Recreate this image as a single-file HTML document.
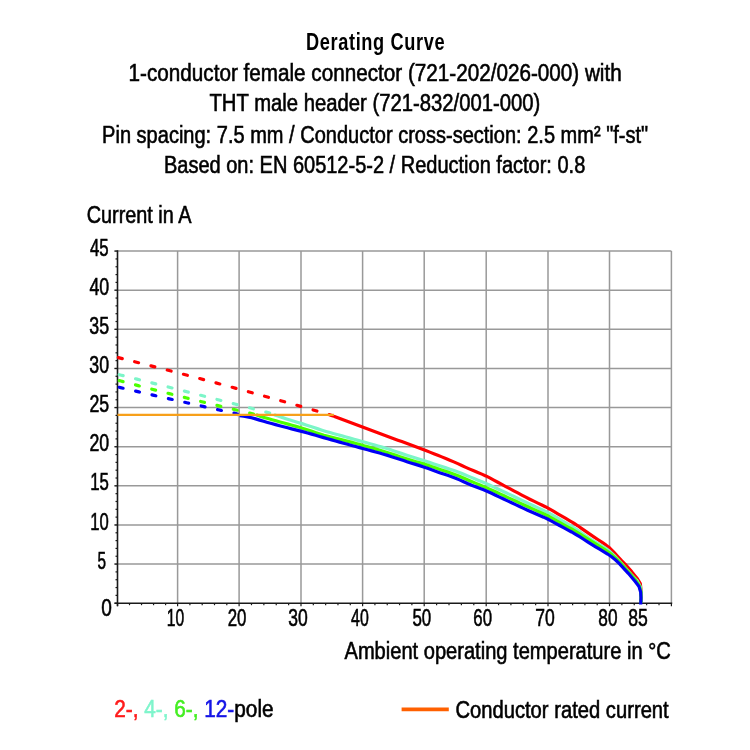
<!DOCTYPE html><html><head><meta charset="utf-8"><style>html,body{margin:0;padding:0;background:#fff;}svg{display:block;filter:grayscale(0)}text{font-family:"Liberation Sans",sans-serif;fill:#000;stroke:#000;stroke-width:0.6px;font-size:24px;}</style></head><body>
<svg width="750" height="750" viewBox="0 0 750 750">
<rect width="750" height="750" fill="#fff"/>
<line x1="177.6" y1="251.10" x2="177.6" y2="603.20" stroke="#999999" stroke-width="1.5"/>
<line x1="239.1" y1="251.10" x2="239.1" y2="603.20" stroke="#999999" stroke-width="1.5"/>
<line x1="301.0" y1="251.10" x2="301.0" y2="603.20" stroke="#999999" stroke-width="1.5"/>
<line x1="362.6" y1="251.10" x2="362.6" y2="603.20" stroke="#999999" stroke-width="1.5"/>
<line x1="424.2" y1="251.10" x2="424.2" y2="603.20" stroke="#999999" stroke-width="1.5"/>
<line x1="486.2" y1="251.10" x2="486.2" y2="603.20" stroke="#999999" stroke-width="1.5"/>
<line x1="548.0" y1="251.10" x2="548.0" y2="603.20" stroke="#999999" stroke-width="1.5"/>
<line x1="609.5" y1="251.10" x2="609.5" y2="603.20" stroke="#999999" stroke-width="1.5"/>
<line x1="671.4" y1="251.10" x2="671.4" y2="603.20" stroke="#999999" stroke-width="1.5"/>
<line x1="114.5" y1="564.08" x2="671.4" y2="564.08" stroke="#999999" stroke-width="1.5"/>
<line x1="114.5" y1="524.96" x2="671.4" y2="524.96" stroke="#999999" stroke-width="1.5"/>
<line x1="114.5" y1="485.83" x2="671.4" y2="485.83" stroke="#999999" stroke-width="1.5"/>
<line x1="114.5" y1="446.71" x2="671.4" y2="446.71" stroke="#999999" stroke-width="1.5"/>
<line x1="114.5" y1="407.59" x2="671.4" y2="407.59" stroke="#999999" stroke-width="1.5"/>
<line x1="114.5" y1="368.47" x2="671.4" y2="368.47" stroke="#999999" stroke-width="1.5"/>
<line x1="114.5" y1="329.35" x2="671.4" y2="329.35" stroke="#999999" stroke-width="1.5"/>
<line x1="114.5" y1="290.22" x2="671.4" y2="290.22" stroke="#999999" stroke-width="1.5"/>
<line x1="114.5" y1="251.10" x2="671.4" y2="251.10" stroke="#999999" stroke-width="1.5"/>
<line x1="117.5" y1="250.20" x2="117.5" y2="606.20" stroke="#1a1a1a" stroke-width="1.6"/>
<line x1="114.5" y1="603.20" x2="672.1999999999999" y2="603.20" stroke="#1a1a1a" stroke-width="1.6"/>
<line x1="114.5" y1="603.20" x2="117.5" y2="603.20" stroke="#1a1a1a" stroke-width="1.2"/>
<line x1="115.5" y1="595.38" x2="117.5" y2="595.38" stroke="#1a1a1a" stroke-width="1.2"/>
<line x1="115.5" y1="587.55" x2="117.5" y2="587.55" stroke="#1a1a1a" stroke-width="1.2"/>
<line x1="115.5" y1="579.73" x2="117.5" y2="579.73" stroke="#1a1a1a" stroke-width="1.2"/>
<line x1="115.5" y1="571.90" x2="117.5" y2="571.90" stroke="#1a1a1a" stroke-width="1.2"/>
<line x1="114.5" y1="564.08" x2="117.5" y2="564.08" stroke="#1a1a1a" stroke-width="1.2"/>
<line x1="115.5" y1="556.25" x2="117.5" y2="556.25" stroke="#1a1a1a" stroke-width="1.2"/>
<line x1="115.5" y1="548.43" x2="117.5" y2="548.43" stroke="#1a1a1a" stroke-width="1.2"/>
<line x1="115.5" y1="540.60" x2="117.5" y2="540.60" stroke="#1a1a1a" stroke-width="1.2"/>
<line x1="115.5" y1="532.78" x2="117.5" y2="532.78" stroke="#1a1a1a" stroke-width="1.2"/>
<line x1="114.5" y1="524.96" x2="117.5" y2="524.96" stroke="#1a1a1a" stroke-width="1.2"/>
<line x1="115.5" y1="517.13" x2="117.5" y2="517.13" stroke="#1a1a1a" stroke-width="1.2"/>
<line x1="115.5" y1="509.31" x2="117.5" y2="509.31" stroke="#1a1a1a" stroke-width="1.2"/>
<line x1="115.5" y1="501.48" x2="117.5" y2="501.48" stroke="#1a1a1a" stroke-width="1.2"/>
<line x1="115.5" y1="493.66" x2="117.5" y2="493.66" stroke="#1a1a1a" stroke-width="1.2"/>
<line x1="114.5" y1="485.83" x2="117.5" y2="485.83" stroke="#1a1a1a" stroke-width="1.2"/>
<line x1="115.5" y1="478.01" x2="117.5" y2="478.01" stroke="#1a1a1a" stroke-width="1.2"/>
<line x1="115.5" y1="470.19" x2="117.5" y2="470.19" stroke="#1a1a1a" stroke-width="1.2"/>
<line x1="115.5" y1="462.36" x2="117.5" y2="462.36" stroke="#1a1a1a" stroke-width="1.2"/>
<line x1="115.5" y1="454.54" x2="117.5" y2="454.54" stroke="#1a1a1a" stroke-width="1.2"/>
<line x1="114.5" y1="446.71" x2="117.5" y2="446.71" stroke="#1a1a1a" stroke-width="1.2"/>
<line x1="115.5" y1="438.89" x2="117.5" y2="438.89" stroke="#1a1a1a" stroke-width="1.2"/>
<line x1="115.5" y1="431.06" x2="117.5" y2="431.06" stroke="#1a1a1a" stroke-width="1.2"/>
<line x1="115.5" y1="423.24" x2="117.5" y2="423.24" stroke="#1a1a1a" stroke-width="1.2"/>
<line x1="115.5" y1="415.41" x2="117.5" y2="415.41" stroke="#1a1a1a" stroke-width="1.2"/>
<line x1="114.5" y1="407.59" x2="117.5" y2="407.59" stroke="#1a1a1a" stroke-width="1.2"/>
<line x1="115.5" y1="399.77" x2="117.5" y2="399.77" stroke="#1a1a1a" stroke-width="1.2"/>
<line x1="115.5" y1="391.94" x2="117.5" y2="391.94" stroke="#1a1a1a" stroke-width="1.2"/>
<line x1="115.5" y1="384.12" x2="117.5" y2="384.12" stroke="#1a1a1a" stroke-width="1.2"/>
<line x1="115.5" y1="376.29" x2="117.5" y2="376.29" stroke="#1a1a1a" stroke-width="1.2"/>
<line x1="114.5" y1="368.47" x2="117.5" y2="368.47" stroke="#1a1a1a" stroke-width="1.2"/>
<line x1="115.5" y1="360.64" x2="117.5" y2="360.64" stroke="#1a1a1a" stroke-width="1.2"/>
<line x1="115.5" y1="352.82" x2="117.5" y2="352.82" stroke="#1a1a1a" stroke-width="1.2"/>
<line x1="115.5" y1="344.99" x2="117.5" y2="344.99" stroke="#1a1a1a" stroke-width="1.2"/>
<line x1="115.5" y1="337.17" x2="117.5" y2="337.17" stroke="#1a1a1a" stroke-width="1.2"/>
<line x1="114.5" y1="329.35" x2="117.5" y2="329.35" stroke="#1a1a1a" stroke-width="1.2"/>
<line x1="115.5" y1="321.52" x2="117.5" y2="321.52" stroke="#1a1a1a" stroke-width="1.2"/>
<line x1="115.5" y1="313.70" x2="117.5" y2="313.70" stroke="#1a1a1a" stroke-width="1.2"/>
<line x1="115.5" y1="305.87" x2="117.5" y2="305.87" stroke="#1a1a1a" stroke-width="1.2"/>
<line x1="115.5" y1="298.05" x2="117.5" y2="298.05" stroke="#1a1a1a" stroke-width="1.2"/>
<line x1="114.5" y1="290.22" x2="117.5" y2="290.22" stroke="#1a1a1a" stroke-width="1.2"/>
<line x1="115.5" y1="282.40" x2="117.5" y2="282.40" stroke="#1a1a1a" stroke-width="1.2"/>
<line x1="115.5" y1="274.58" x2="117.5" y2="274.58" stroke="#1a1a1a" stroke-width="1.2"/>
<line x1="115.5" y1="266.75" x2="117.5" y2="266.75" stroke="#1a1a1a" stroke-width="1.2"/>
<line x1="115.5" y1="258.93" x2="117.5" y2="258.93" stroke="#1a1a1a" stroke-width="1.2"/>
<line x1="114.5" y1="251.10" x2="117.5" y2="251.10" stroke="#1a1a1a" stroke-width="1.2"/>
<line x1="117.50" y1="603.2" x2="117.50" y2="606.2" stroke="#1a1a1a" stroke-width="1.2"/>
<line x1="129.52" y1="603.2" x2="129.52" y2="605.2" stroke="#1a1a1a" stroke-width="1.2"/>
<line x1="141.54" y1="603.2" x2="141.54" y2="605.2" stroke="#1a1a1a" stroke-width="1.2"/>
<line x1="153.56" y1="603.2" x2="153.56" y2="605.2" stroke="#1a1a1a" stroke-width="1.2"/>
<line x1="165.58" y1="603.2" x2="165.58" y2="605.2" stroke="#1a1a1a" stroke-width="1.2"/>
<line x1="177.60" y1="603.2" x2="177.60" y2="606.2" stroke="#1a1a1a" stroke-width="1.2"/>
<line x1="189.90" y1="603.2" x2="189.90" y2="605.2" stroke="#1a1a1a" stroke-width="1.2"/>
<line x1="202.20" y1="603.2" x2="202.20" y2="605.2" stroke="#1a1a1a" stroke-width="1.2"/>
<line x1="214.50" y1="603.2" x2="214.50" y2="605.2" stroke="#1a1a1a" stroke-width="1.2"/>
<line x1="226.80" y1="603.2" x2="226.80" y2="605.2" stroke="#1a1a1a" stroke-width="1.2"/>
<line x1="239.10" y1="603.2" x2="239.10" y2="606.2" stroke="#1a1a1a" stroke-width="1.2"/>
<line x1="251.48" y1="603.2" x2="251.48" y2="605.2" stroke="#1a1a1a" stroke-width="1.2"/>
<line x1="263.86" y1="603.2" x2="263.86" y2="605.2" stroke="#1a1a1a" stroke-width="1.2"/>
<line x1="276.24" y1="603.2" x2="276.24" y2="605.2" stroke="#1a1a1a" stroke-width="1.2"/>
<line x1="288.62" y1="603.2" x2="288.62" y2="605.2" stroke="#1a1a1a" stroke-width="1.2"/>
<line x1="301.00" y1="603.2" x2="301.00" y2="606.2" stroke="#1a1a1a" stroke-width="1.2"/>
<line x1="313.32" y1="603.2" x2="313.32" y2="605.2" stroke="#1a1a1a" stroke-width="1.2"/>
<line x1="325.64" y1="603.2" x2="325.64" y2="605.2" stroke="#1a1a1a" stroke-width="1.2"/>
<line x1="337.96" y1="603.2" x2="337.96" y2="605.2" stroke="#1a1a1a" stroke-width="1.2"/>
<line x1="350.28" y1="603.2" x2="350.28" y2="605.2" stroke="#1a1a1a" stroke-width="1.2"/>
<line x1="362.60" y1="603.2" x2="362.60" y2="606.2" stroke="#1a1a1a" stroke-width="1.2"/>
<line x1="374.92" y1="603.2" x2="374.92" y2="605.2" stroke="#1a1a1a" stroke-width="1.2"/>
<line x1="387.24" y1="603.2" x2="387.24" y2="605.2" stroke="#1a1a1a" stroke-width="1.2"/>
<line x1="399.56" y1="603.2" x2="399.56" y2="605.2" stroke="#1a1a1a" stroke-width="1.2"/>
<line x1="411.88" y1="603.2" x2="411.88" y2="605.2" stroke="#1a1a1a" stroke-width="1.2"/>
<line x1="424.20" y1="603.2" x2="424.20" y2="606.2" stroke="#1a1a1a" stroke-width="1.2"/>
<line x1="436.60" y1="603.2" x2="436.60" y2="605.2" stroke="#1a1a1a" stroke-width="1.2"/>
<line x1="449.00" y1="603.2" x2="449.00" y2="605.2" stroke="#1a1a1a" stroke-width="1.2"/>
<line x1="461.40" y1="603.2" x2="461.40" y2="605.2" stroke="#1a1a1a" stroke-width="1.2"/>
<line x1="473.80" y1="603.2" x2="473.80" y2="605.2" stroke="#1a1a1a" stroke-width="1.2"/>
<line x1="486.20" y1="603.2" x2="486.20" y2="606.2" stroke="#1a1a1a" stroke-width="1.2"/>
<line x1="498.56" y1="603.2" x2="498.56" y2="605.2" stroke="#1a1a1a" stroke-width="1.2"/>
<line x1="510.92" y1="603.2" x2="510.92" y2="605.2" stroke="#1a1a1a" stroke-width="1.2"/>
<line x1="523.28" y1="603.2" x2="523.28" y2="605.2" stroke="#1a1a1a" stroke-width="1.2"/>
<line x1="535.64" y1="603.2" x2="535.64" y2="605.2" stroke="#1a1a1a" stroke-width="1.2"/>
<line x1="548.00" y1="603.2" x2="548.00" y2="606.2" stroke="#1a1a1a" stroke-width="1.2"/>
<line x1="560.30" y1="603.2" x2="560.30" y2="605.2" stroke="#1a1a1a" stroke-width="1.2"/>
<line x1="572.60" y1="603.2" x2="572.60" y2="605.2" stroke="#1a1a1a" stroke-width="1.2"/>
<line x1="584.90" y1="603.2" x2="584.90" y2="605.2" stroke="#1a1a1a" stroke-width="1.2"/>
<line x1="597.20" y1="603.2" x2="597.20" y2="605.2" stroke="#1a1a1a" stroke-width="1.2"/>
<line x1="609.50" y1="603.2" x2="609.50" y2="606.2" stroke="#1a1a1a" stroke-width="1.2"/>
<line x1="621.88" y1="603.2" x2="621.88" y2="605.2" stroke="#1a1a1a" stroke-width="1.2"/>
<line x1="634.26" y1="603.2" x2="634.26" y2="605.2" stroke="#1a1a1a" stroke-width="1.2"/>
<line x1="646.64" y1="603.2" x2="646.64" y2="605.2" stroke="#1a1a1a" stroke-width="1.2"/>
<line x1="659.02" y1="603.2" x2="659.02" y2="605.2" stroke="#1a1a1a" stroke-width="1.2"/>
<line x1="671.40" y1="603.2" x2="671.40" y2="606.2" stroke="#1a1a1a" stroke-width="1.2"/>
<polyline points="117.40,374.25 121.32,375.22 125.23,376.20 129.15,377.18 133.06,378.16 136.97,379.14 140.89,380.12 144.81,381.11 148.72,382.09 152.63,383.08 156.55,384.06 160.47,385.05 164.38,386.04 168.30,387.03 172.21,388.02 176.12,389.01 180.04,390.01 183.95,391.00 187.87,392.00 191.79,392.99 195.70,393.99 199.62,394.99 203.53,395.99 207.44,396.99 211.36,397.99 215.28,399.00 219.19,400.00 223.11,401.01 227.02,402.01 230.94,403.02 234.85,404.03 238.76,405.04 242.68,406.05 246.59,407.06 250.51,408.07 254.43,409.09 258.34,410.10 262.25,411.12 266.17,412.13 270.09,413.15 274.00,414.80" fill="none" stroke="#7cf5c8" stroke-width="3.2" stroke-dasharray="4.0 12.8" stroke-dashoffset="-1.9" stroke-linecap="round"/>
<polyline points="117.40,380.13 120.87,381.05 124.33,381.97 127.80,382.89 131.26,383.80 134.72,384.71 138.19,385.62 141.66,386.53 145.12,387.43 148.59,388.32 152.05,389.22 155.51,390.11 158.98,391.00 162.44,391.89 165.91,392.77 169.38,393.65 172.84,394.52 176.31,395.40 179.77,396.27 183.24,397.13 186.70,398.00 190.17,398.86 193.63,399.71 197.09,400.57 200.56,401.42 204.03,402.27 207.49,403.11 210.95,403.95 214.42,404.79 217.88,405.63 221.35,406.46 224.81,407.29 228.28,408.11 231.75,408.94 235.21,409.76 238.68,410.57 242.14,411.38 245.60,412.19 249.07,413.00 252.53,413.81 256.00,414.80" fill="none" stroke="#4cff00" stroke-width="3.2" stroke-dasharray="4.0 12.8" stroke-dashoffset="-1.9" stroke-linecap="round"/>
<polyline points="117.40,386.85 120.46,387.57 123.51,388.28 126.56,389.00 129.62,389.71 132.68,390.42 135.73,391.13 138.78,391.83 141.84,392.54 144.90,393.24 147.95,393.95 151.00,394.65 154.06,395.35 157.12,396.05 160.17,396.75 163.22,397.44 166.28,398.14 169.33,398.83 172.39,399.52 175.44,400.21 178.50,400.90 181.56,401.59 184.61,402.28 187.67,402.96 190.72,403.65 193.77,404.33 196.83,405.01 199.88,405.69 202.94,406.37 206.00,407.05 209.05,407.72 212.11,408.40 215.16,409.07 218.21,409.74 221.27,410.41 224.32,411.08 227.38,411.75 230.44,412.41 233.49,413.08 236.54,413.74 239.60,415.60" fill="none" stroke="#0000f5" stroke-width="3.2" stroke-dasharray="4.0 12.8" stroke-dashoffset="-1.9" stroke-linecap="round"/>
<polyline points="117.40,357.38 122.81,358.73 128.22,360.08 133.63,361.45 139.04,362.82 144.45,364.19 149.86,365.57 155.27,366.96 160.68,368.35 166.09,369.74 171.50,371.15 176.91,372.56 182.32,373.97 187.73,375.39 193.14,376.82 198.55,378.25 203.96,379.69 209.37,381.13 214.78,382.58 220.19,384.04 225.60,385.50 231.01,386.97 236.42,388.44 241.83,389.92 247.24,391.40 252.65,392.89 258.06,394.39 263.47,395.89 268.88,397.40 274.29,398.91 279.70,400.43 285.11,401.95 290.52,403.48 295.93,405.02 301.34,406.56 306.75,408.11 312.16,409.66 317.57,411.22 322.98,412.79 328.39,414.36 333.80,416.20" fill="none" stroke="#ff0000" stroke-width="3.2" stroke-dasharray="4.0 12.8" stroke-dashoffset="-1.0" stroke-linecap="round"/>
<polyline points="333.80,416.20 337.80,417.73 341.80,419.26 345.80,420.78 349.80,422.31 353.80,423.83 357.80,425.34 361.80,426.84 365.80,428.33 369.80,429.83 373.80,431.32 377.80,432.81 381.80,434.30 385.80,435.78 389.80,437.25 393.80,438.70 397.80,440.16 401.80,441.62 405.80,443.07 409.80,444.54 413.80,446.03 417.80,447.53 421.80,449.05 425.80,450.58 429.80,452.12 433.80,453.69 437.80,455.26 441.80,456.87 445.80,458.50 449.80,460.16 453.80,461.86 457.80,463.64 461.80,465.48 465.80,467.33 469.80,469.12 473.80,470.82 477.80,472.47 481.80,474.13 485.80,475.93 489.80,477.93 493.80,480.09 497.80,482.27 501.80,484.44 505.80,486.57 509.80,488.69 513.80,490.81 517.80,492.93 521.80,495.05 525.80,497.16 529.80,499.21 533.80,501.18 537.80,503.08 541.80,504.99 545.80,506.96 549.80,509.10 553.80,511.39 557.80,513.76 561.80,516.11 565.80,518.43 569.80,520.76 573.80,523.19 577.80,525.80 581.80,528.57 585.80,531.40 589.80,534.18 593.80,536.88 597.80,539.52 601.80,542.15 605.80,544.90 609.80,548.10 613.80,552.04 617.80,556.45 621.80,560.86 625.00,564.10 631.70,571.65 637.00,578.20 640.30,583.50 641.00,590.00 641.00,603.00" fill="none" stroke="#ff0000" stroke-width="3.2" stroke-linejoin="round"/>
<polyline points="274.00,414.80 278.00,416.09 282.00,417.39 286.00,418.68 290.00,419.96 294.00,421.22 298.00,422.43 302.00,423.65 306.00,424.93 310.00,426.24 314.00,427.56 318.00,428.88 322.00,430.18 326.00,431.41 330.00,432.57 334.00,433.69 338.00,434.80 342.00,435.90 346.00,437.01 350.00,438.12 354.00,439.23 358.00,440.34 362.00,441.46 366.00,442.58 370.00,443.70 374.00,444.82 378.00,445.94 382.00,447.09 386.00,448.30 390.00,449.59 394.00,450.92 398.00,452.27 402.00,453.61 406.00,454.95 410.00,456.25 414.00,457.51 418.00,458.74 422.00,459.99 426.00,461.28 430.00,462.61 434.00,463.96 438.00,465.30 442.00,466.60 446.00,467.88 450.00,469.15 454.00,470.51 458.00,472.00 462.00,473.60 466.00,475.24 470.00,476.89 474.00,478.52 478.00,480.15 482.00,481.79 486.00,483.49 490.00,485.27 494.00,487.12 498.00,488.98 502.00,490.86 506.00,492.76 510.00,494.67 514.00,496.57 518.00,498.48 522.00,500.39 526.00,502.29 530.00,504.17 534.00,506.02 538.00,507.84 542.00,509.68 546.00,511.59 550.00,513.65 554.00,515.87 558.00,518.17 562.00,520.51 566.00,522.87 570.00,525.27 574.00,527.77 578.00,530.43 582.00,533.21 586.00,536.03 590.00,538.73 594.00,541.27 598.00,543.70 602.00,546.11 606.00,548.65 610.00,551.64 614.00,555.33 618.00,559.57 622.00,564.10 631.00,574.35 637.00,580.56 640.50,587.00 641.00,592.00 641.00,603.00" fill="none" stroke="#7cf5c8" stroke-width="3.2" stroke-linejoin="round"/>
<polyline points="256.00,414.80 260.00,416.12 264.00,417.40 268.00,418.59 272.00,419.72 276.00,420.83 280.00,421.93 284.00,423.03 288.00,424.14 292.00,425.24 296.00,426.36 300.00,427.54 304.00,428.77 308.00,430.05 312.00,431.36 316.00,432.66 320.00,433.95 324.00,435.18 328.00,436.31 332.00,437.35 336.00,438.35 340.00,439.35 344.00,440.35 348.00,441.35 352.00,442.37 356.00,443.43 360.00,444.54 364.00,445.68 368.00,446.83 372.00,447.97 376.00,449.12 380.00,450.28 384.00,451.47 388.00,452.72 392.00,454.03 396.00,455.35 400.00,456.68 404.00,458.00 408.00,459.29 412.00,460.53 416.00,461.70 420.00,462.85 424.00,464.06 428.00,465.37 432.00,466.73 436.00,468.11 440.00,469.46 444.00,470.77 448.00,472.07 452.00,473.41 456.00,474.90 460.00,476.56 464.00,478.31 468.00,480.07 472.00,481.76 476.00,483.39 480.00,485.01 484.00,486.66 488.00,488.38 492.00,490.19 496.00,492.04 500.00,493.89 504.00,495.74 508.00,497.58 512.00,499.42 516.00,501.26 520.00,503.10 524.00,504.94 528.00,506.77 532.00,508.59 536.00,510.40 540.00,512.20 544.00,514.03 548.00,515.99 552.00,518.13 556.00,520.39 560.00,522.65 564.00,524.86 568.00,527.04 572.00,529.25 576.00,531.58 580.00,534.03 584.00,536.57 588.00,539.10 592.00,541.61 596.00,544.09 600.00,546.55 604.00,549.05 608.00,551.73 612.00,554.85 616.00,558.47 620.00,562.40 628.00,571.30 635.00,579.24 639.50,586.10 641.00,592.00 641.00,603.00" fill="none" stroke="#4cff00" stroke-width="3.2" stroke-linejoin="round"/>
<polyline points="239.60,415.60 243.60,416.19 247.60,416.88 251.60,417.77 255.60,418.88 259.60,420.10 263.60,421.31 267.60,422.46 271.60,423.55 275.60,424.62 279.60,425.69 283.60,426.75 287.60,427.82 291.60,428.86 295.60,429.86 299.60,430.83 303.60,431.87 307.60,432.98 311.60,434.13 315.60,435.28 319.60,436.44 323.60,437.59 327.60,438.72 331.60,439.85 335.60,440.97 339.60,442.09 343.60,443.21 347.60,444.33 351.60,445.44 355.60,446.55 359.60,447.64 363.60,448.72 367.60,449.80 371.60,450.88 375.60,451.96 379.60,453.05 383.60,454.18 387.60,455.39 391.60,456.67 395.60,457.98 399.60,459.29 403.60,460.60 407.60,461.90 411.60,463.16 415.60,464.40 419.60,465.64 423.60,466.94 427.60,468.33 431.60,469.79 435.60,471.26 439.60,472.68 443.60,474.03 447.60,475.34 451.60,476.68 455.60,478.17 459.60,479.88 463.60,481.70 467.60,483.51 471.60,485.19 475.60,486.75 479.60,488.25 483.60,489.80 487.60,491.48 491.60,493.30 495.60,495.19 499.60,497.10 503.60,498.99 507.60,500.87 511.60,502.75 515.60,504.63 519.60,506.51 523.60,508.39 527.60,510.24 531.60,512.03 535.60,513.76 539.60,515.45 543.60,517.17 547.60,519.03 551.60,521.09 555.60,523.30 559.60,525.52 563.60,527.69 567.60,529.82 571.60,531.98 575.60,534.27 579.60,536.72 583.60,539.27 587.60,541.82 591.60,544.33 595.60,546.78 599.60,549.21 603.60,551.61 607.60,554.04 611.60,556.76 615.60,560.04 619.60,563.80 628.30,573.30 635.00,581.24 639.00,586.49 640.70,592.30 641.00,597.70 640.80,603.00 640.70,604.50" fill="none" stroke="#0000f5" stroke-width="3.2" stroke-linejoin="round"/>
<line x1="117.5" y1="414.8" x2="333.8" y2="414.8" stroke="#f7a01a" stroke-width="2.2"/>
<line x1="401.6" y1="709.4" x2="448.8" y2="709.4" stroke="#ff6000" stroke-width="3.6"/>
<text transform="translate(306.11,50.10) scale(0.7588,1)" text-anchor="start" style="font-weight:bold;stroke-width:0;letter-spacing:0.8px">Derating Curve</text>
<text transform="translate(128.57,80.60) scale(0.8623,1)" text-anchor="start" >1-conductor female connector (721-202/026-000) with</text>
<text transform="translate(209.49,110.90) scale(0.8449,1)" text-anchor="start" >THT male header (721-832/001-000)</text>
<text transform="translate(102.11,143.00) scale(0.8347,1)" text-anchor="start" >Pin spacing: 7.5 mm / Conductor cross-section: 2.5 mm² &quot;f-st&quot;</text>
<text transform="translate(163.92,173.00) scale(0.8341,1)" text-anchor="start" >Based on: EN 60512-5-2 / Reduction factor: 0.8</text>
<text transform="translate(86.69,222.60) scale(0.8265,1)" text-anchor="start" >Current in A</text>
<text transform="translate(344.48,659.00) scale(0.8372,1)" text-anchor="start" >Ambient operating temperature in °C</text>
<text transform="translate(114.17,716.60) scale(0.8666,1)" text-anchor="start" ><tspan style="fill:#ff1a1a;stroke:#ff1a1a">2-, </tspan><tspan style="fill:#7ff5cc;stroke:#7ff5cc">4-, </tspan><tspan style="fill:#44ee22;stroke:#44ee22">6-, </tspan><tspan style="fill:#1414e6;stroke:#1414e6">12-</tspan>pole</text>
<text transform="translate(455.39,717.50) scale(0.8422,1)" text-anchor="start" >Conductor rated current</text>
<text transform="translate(90.00,255.60) scale(0.7003,1)" text-anchor="start" >45</text>
<text transform="translate(89.46,294.73) scale(0.7434,1)" text-anchor="start" >40</text>
<text transform="translate(89.26,333.87) scale(0.7426,1)" text-anchor="start" >35</text>
<text transform="translate(89.28,373.00) scale(0.7408,1)" text-anchor="start" >30</text>
<text transform="translate(89.48,412.13) scale(0.7393,1)" text-anchor="start" >25</text>
<text transform="translate(89.48,451.27) scale(0.7393,1)" text-anchor="start" >20</text>
<text transform="translate(90.17,490.40) scale(0.7001,1)" text-anchor="start" >15</text>
<text transform="translate(90.18,529.53) scale(0.6937,1)" text-anchor="start" >10</text>
<text transform="translate(97.40,568.67) scale(0.6381,1)" text-anchor="start" >5</text>
<text transform="translate(101.27,615.50) scale(0.7934,1)" text-anchor="start" >0</text>
<text transform="translate(166.73,625.60) scale(0.6534,1)" text-anchor="start" >10</text>
<text transform="translate(227.76,625.60) scale(0.7018,1)" text-anchor="start" >20</text>
<text transform="translate(288.14,625.60) scale(0.7305,1)" text-anchor="start" >30</text>
<text transform="translate(351.07,625.60) scale(0.6613,1)" text-anchor="start" >40</text>
<text transform="translate(412.45,625.60) scale(0.7060,1)" text-anchor="start" >50</text>
<text transform="translate(473.33,625.60) scale(0.7003,1)" text-anchor="start" >60</text>
<text transform="translate(535.14,625.60) scale(0.7305,1)" text-anchor="start" >70</text>
<text transform="translate(598.31,625.60) scale(0.7184,1)" text-anchor="start" >80</text>
<text transform="translate(628.21,625.60) scale(0.7336,1)" text-anchor="start" >85</text>
</svg></body></html>
